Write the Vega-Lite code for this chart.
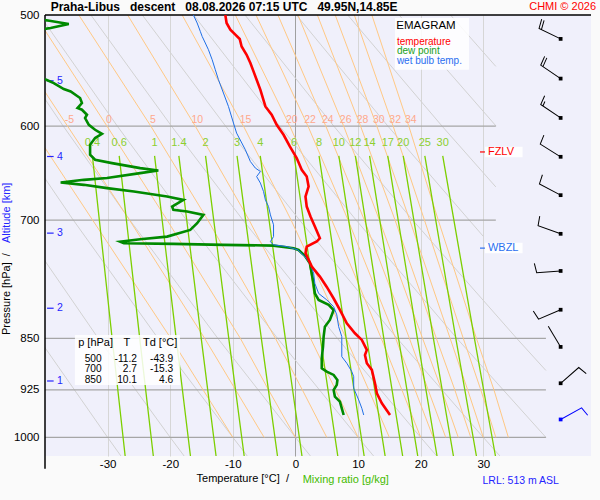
{
  "$schema": "https://vega.github.io/schema/vega-lite/v6.json",
  "width": 546,
  "height": 441,
  "autosize": "none",
  "padding": {"left": 45, "top": 15, "right": 9, "bottom": 44},
  "background": "#fafafa",
  "config": {
    "font": "Liberation Sans",
    "view": {"stroke": null, "fill": "#f0f0fb"}
  },
  "datasets": {
    "levels": [{"p": 600}, {"p": 700}, {"p": 850}, {"p": 925}, {"p": 1000}],
    "alt": [
      {"km": 1, "p": 911.6}, {"km": 2, "p": 809}, {"km": 3, "p": 715.2},
      {"km": 4, "p": 630.7}, {"km": 5, "p": 557}
    ],
    "zl": [{"name": "FZLV", "p": 626}, {"name": "WBZL", "p": 733}],
    "table": [
      {"lev": 500, "T": -11.2, "Td": -43.9},
      {"lev": 700, "T": 2.7, "Td": -15.3},
      {"lev": 850, "T": 10.1, "Td": 4.6}
    ],
    "wind": [
      {"p": 520, "dir": 296, "kt": 20}, {"p": 555, "dir": 304, "kt": 20},
      {"p": 592, "dir": 304, "kt": 15}, {"p": 631, "dir": 302, "kt": 10},
      {"p": 672, "dir": 298, "kt": 10}, {"p": 716, "dir": 290, "kt": 10},
      {"p": 761, "dir": 266, "kt": 10}, {"p": 811, "dir": 247, "kt": 10},
      {"p": 862, "dir": 329, "kt": 3}, {"p": 915, "dir": 49, "kt": 10},
      {"p": 971, "dir": 61, "kt": 10}
    ],
    "dry": [
      {"th": -30, "p": 1031, "T": -27.87}, {"th": -30, "p": 1000, "T": -30}, {"th": -30, "p": 850, "T": -41.04},
      {"th": -20, "p": 1031, "T": -17.78}, {"th": -20, "p": 1000, "T": -20}, {"th": -20, "p": 850, "T": -31.49}, {"th": -20, "p": 700, "T": -44.5},
      {"th": -10, "p": 1031, "T": -7.7}, {"th": -10, "p": 1000, "T": -10}, {"th": -10, "p": 850, "T": -21.95}, {"th": -10, "p": 700, "T": -35.48}, {"th": -10, "p": 600, "T": -45.7},
      {"th": 0, "p": 1031, "T": 2.39}, {"th": 0, "p": 1000, "T": 0}, {"th": 0, "p": 850, "T": -12.4}, {"th": 0, "p": 700, "T": -26.45}, {"th": 0, "p": 600, "T": -37.09}, {"th": 0, "p": 500, "T": -49.07},
      {"th": 10, "p": 1031, "T": 12.48}, {"th": 10, "p": 1000, "T": 10}, {"th": 10, "p": 850, "T": -2.86}, {"th": 10, "p": 700, "T": -17.42}, {"th": 10, "p": 600, "T": -28.45}, {"th": 10, "p": 500, "T": -40.87},
      {"th": 20, "p": 1031, "T": 22.57}, {"th": 20, "p": 1000, "T": 20}, {"th": 20, "p": 850, "T": 6.69}, {"th": 20, "p": 700, "T": -8.39}, {"th": 20, "p": 600, "T": -19.8}, {"th": 20, "p": 500, "T": -32.67},
      {"th": 30, "p": 1031, "T": 32.66}, {"th": 30, "p": 1000, "T": 30}, {"th": 30, "p": 850, "T": 16.24}, {"th": 30, "p": 700, "T": 0.65}, {"th": 30, "p": 600, "T": -11.16}, {"th": 30, "p": 500, "T": -24.46},
      {"th": 40, "p": 1000, "T": 40}, {"th": 40, "p": 850, "T": 25.78}, {"th": 40, "p": 700, "T": 9.68}, {"th": 40, "p": 600, "T": -2.52}, {"th": 40, "p": 500, "T": -16.26},
      {"th": 50, "p": 896, "T": 40}, {"th": 50, "p": 850, "T": 35.33}, {"th": 50, "p": 700, "T": 18.71}, {"th": 50, "p": 600, "T": 6.12}, {"th": 50, "p": 500, "T": -8.06},
      {"th": 60, "p": 719, "T": 30}, {"th": 60, "p": 700, "T": 27.74}, {"th": 60, "p": 600, "T": 14.76}, {"th": 60, "p": 500, "T": 0.15},
      {"th": 70, "p": 663, "T": 32}, {"th": 70, "p": 600, "T": 23.41}, {"th": 70, "p": 500, "T": 8.35},
      {"th": 80, "p": 600, "T": 32.05}, {"th": 80, "p": 500, "T": 16.56},
      {"th": 90, "p": 544, "T": 32}, {"th": 90, "p": 500, "T": 24.76}
    ],
    "moist": [
      {"th": -10, "p": 1000, "T": -10}, {"th": -10, "p": 850, "T": -19.9}, {"th": -10, "p": 700, "T": -32.4}, {"th": -10, "p": 600, "T": -42.3},
      {"th": -5, "p": 1000, "T": -5}, {"th": -5, "p": 850, "T": -14.5}, {"th": -5, "p": 700, "T": -26.5}, {"th": -5, "p": 600, "T": -36.4}, {"th": -5, "p": 500, "T": -48.1},
      {"th": 0, "p": 1000, "T": 0}, {"th": 0, "p": 925, "T": -4.3}, {"th": 0, "p": 850, "T": -8.8}, {"th": 0, "p": 700, "T": -20.5}, {"th": 0, "p": 600, "T": -30.1}, {"th": 0, "p": 500, "T": -41.6},
      {"th": 5, "p": 1000, "T": 5}, {"th": 5, "p": 925, "T": 1.1}, {"th": 5, "p": 850, "T": -3.2}, {"th": 5, "p": 700, "T": -14}, {"th": 5, "p": 600, "T": -23.1}, {"th": 5, "p": 500, "T": -34.6},
      {"th": 10, "p": 1000, "T": 10}, {"th": 10, "p": 925, "T": 6.4}, {"th": 10, "p": 850, "T": 2.4}, {"th": 10, "p": 700, "T": -7.4}, {"th": 10, "p": 600, "T": -16}, {"th": 10, "p": 500, "T": -26.8},
      {"th": 15, "p": 1000, "T": 15}, {"th": 15, "p": 925, "T": 11.7}, {"th": 15, "p": 850, "T": 8.1}, {"th": 15, "p": 700, "T": -0.7}, {"th": 15, "p": 600, "T": -8.3}, {"th": 15, "p": 500, "T": -18.1},
      {"th": 20, "p": 1000, "T": 20}, {"th": 20, "p": 925, "T": 17}, {"th": 20, "p": 850, "T": 13.7}, {"th": 20, "p": 700, "T": 5.8}, {"th": 20, "p": 600, "T": -0.9}, {"th": 20, "p": 500, "T": -9.6},
      {"th": 22, "p": 1000, "T": 22}, {"th": 22, "p": 925, "T": 19.1}, {"th": 22, "p": 850, "T": 16}, {"th": 22, "p": 700, "T": 8.4}, {"th": 22, "p": 600, "T": 2}, {"th": 22, "p": 500, "T": -6.3},
      {"th": 24, "p": 1000, "T": 24}, {"th": 24, "p": 925, "T": 21.2}, {"th": 24, "p": 850, "T": 18.2}, {"th": 24, "p": 700, "T": 11}, {"th": 24, "p": 600, "T": 4.85}, {"th": 24, "p": 500, "T": -2.8},
      {"th": 26, "p": 1000, "T": 26}, {"th": 26, "p": 925, "T": 23.35}, {"th": 26, "p": 850, "T": 20.3}, {"th": 26, "p": 700, "T": 13.4}, {"th": 26, "p": 600, "T": 7.7}, {"th": 26, "p": 500, "T": 0.4},
      {"th": 28, "p": 1000, "T": 28}, {"th": 28, "p": 925, "T": 25.45}, {"th": 28, "p": 850, "T": 22.5}, {"th": 28, "p": 700, "T": 15.9}, {"th": 28, "p": 600, "T": 10.4}, {"th": 28, "p": 500, "T": 3.5},
      {"th": 30, "p": 1000, "T": 30}, {"th": 30, "p": 925, "T": 27.5}, {"th": 30, "p": 850, "T": 24.7}, {"th": 30, "p": 700, "T": 18.25}, {"th": 30, "p": 600, "T": 13}, {"th": 30, "p": 500, "T": 6.35},
      {"th": 32, "p": 1000, "T": 32}, {"th": 32, "p": 925, "T": 29.6}, {"th": 32, "p": 850, "T": 26.8}, {"th": 32, "p": 700, "T": 20.6}, {"th": 32, "p": 600, "T": 15.6}, {"th": 32, "p": 500, "T": 9.4},
      {"th": 34, "p": 1000, "T": 34}, {"th": 34, "p": 925, "T": 31.7}, {"th": 34, "p": 850, "T": 28.9}, {"th": 34, "p": 700, "T": 22.8}, {"th": 34, "p": 600, "T": 18.1}, {"th": 34, "p": 500, "T": 12.2}
    ],
    "mix": [
      {"r": 0.4, "p": 630, "T": -32.43}, {"r": 0.4, "p": 850, "T": -29.28}, {"r": 0.4, "p": 1031, "T": -27.2},
      {"r": 0.6, "p": 630, "T": -28.15}, {"r": 0.6, "p": 850, "T": -24.87}, {"r": 0.6, "p": 1031, "T": -22.7},
      {"r": 1, "p": 630, "T": -22.5}, {"r": 1, "p": 850, "T": -19.05}, {"r": 1, "p": 1031, "T": -16.77},
      {"r": 1.4, "p": 630, "T": -18.62}, {"r": 1.4, "p": 850, "T": -15.05}, {"r": 1.4, "p": 1031, "T": -12.68},
      {"r": 2, "p": 630, "T": -14.36}, {"r": 2, "p": 850, "T": -10.65}, {"r": 2, "p": 1031, "T": -8.19},
      {"r": 3, "p": 630, "T": -9.33}, {"r": 3, "p": 850, "T": -5.45}, {"r": 3, "p": 1031, "T": -2.87},
      {"r": 4, "p": 630, "T": -5.62}, {"r": 4, "p": 850, "T": -1.62}, {"r": 4, "p": 1031, "T": 1.04},
      {"r": 6, "p": 630, "T": -0.21}, {"r": 6, "p": 850, "T": 3.98}, {"r": 6, "p": 1031, "T": 6.76},
      {"r": 8, "p": 630, "T": 3.77}, {"r": 8, "p": 850, "T": 8.1}, {"r": 8, "p": 1031, "T": 10.97},
      {"r": 10, "p": 630, "T": 6.93}, {"r": 10, "p": 850, "T": 11.38}, {"r": 10, "p": 1031, "T": 14.32},
      {"r": 12, "p": 630, "T": 9.57}, {"r": 12, "p": 850, "T": 14.11}, {"r": 12, "p": 1031, "T": 17.12},
      {"r": 14, "p": 630, "T": 11.84}, {"r": 14, "p": 850, "T": 16.46}, {"r": 14, "p": 1031, "T": 19.53},
      {"r": 17, "p": 630, "T": 14.74}, {"r": 17, "p": 850, "T": 19.47}, {"r": 17, "p": 1031, "T": 22.61},
      {"r": 20, "p": 630, "T": 17.21}, {"r": 20, "p": 850, "T": 22.03}, {"r": 20, "p": 1031, "T": 25.23},
      {"r": 25, "p": 630, "T": 20.66}, {"r": 25, "p": 850, "T": 25.61}, {"r": 25, "p": 1031, "T": 28.9},
      {"r": 30, "p": 630, "T": 23.52}, {"r": 30, "p": 850, "T": 28.58}, {"r": 30, "p": 1031, "T": 31.94}
    ],
    "temp": [
      {"p": 500, "T": -11.2}, {"p": 506.6, "T": -11.0}, {"p": 512.2, "T": -10.4}, {"p": 516.4, "T": -9.6},
      {"p": 520.1, "T": -8.9}, {"p": 526.5, "T": -8.6}, {"p": 533.7, "T": -7.8}, {"p": 541, "T": -7.2},
      {"p": 548.5, "T": -6.7}, {"p": 556, "T": -6.2}, {"p": 565.3, "T": -5.6}, {"p": 581, "T": -4.8},
      {"p": 588.9, "T": -3.8}, {"p": 598.7, "T": -3.0}, {"p": 608.6, "T": -1.9}, {"p": 620.4, "T": -0.9},
      {"p": 632.3, "T": 0.2}, {"p": 644.6, "T": 1.0}, {"p": 651.8, "T": 1.8}, {"p": 662.5, "T": 2.1},
      {"p": 673.5, "T": 1.6}, {"p": 684.7, "T": 1.8}, {"p": 695.9, "T": 2.4}, {"p": 707.5, "T": 3.1},
      {"p": 721.1, "T": 3.9}, {"p": 725.1, "T": 3.4}, {"p": 731.1, "T": 1.8}, {"p": 739.1, "T": 1.6},
      {"p": 747.3, "T": 2.1}, {"p": 755.5, "T": 2.6}, {"p": 768.1, "T": 3.9}, {"p": 781.2, "T": 5.0},
      {"p": 796.2, "T": 6.1}, {"p": 811.3, "T": 7.1}, {"p": 829.2, "T": 8.2}, {"p": 842.9, "T": 9.5},
      {"p": 852.2, "T": 10.6}, {"p": 866.3, "T": 11.4}, {"p": 873.5, "T": 11.1}, {"p": 885.4, "T": 11.4},
      {"p": 895.2, "T": 12.2}, {"p": 915, "T": 12.7}, {"p": 930.1, "T": 13.0}, {"p": 945.5, "T": 13.8},
      {"p": 963.9, "T": 15.1}
    ],
    "dew": [
      {"p": 500, "T": -43.9}, {"p": 503, "T": -42}, {"p": 504.7, "T": -39.3}, {"p": 507.4, "T": -36.2},
      {"p": 510.8, "T": -39.1}, {"p": 514, "T": -43}, {"p": 535, "T": -46}, {"p": 552, "T": -42},
      {"p": 556, "T": -39.8}, {"p": 559.1, "T": -38.6}, {"p": 564.6, "T": -37.0}, {"p": 566.8, "T": -35.9},
      {"p": 573, "T": -34.4}, {"p": 577.7, "T": -34.1}, {"p": 582.5, "T": -34.8}, {"p": 584.1, "T": -34.1},
      {"p": 588.9, "T": -33.3}, {"p": 592.1, "T": -33.6}, {"p": 598.7, "T": -33.0}, {"p": 603.6, "T": -32.0},
      {"p": 607.6, "T": -30.9}, {"p": 611.9, "T": -32.0}, {"p": 618.7, "T": -32.8}, {"p": 628.9, "T": -32.8},
      {"p": 634.1, "T": -32.0}, {"p": 637.6, "T": -29.3}, {"p": 642.8, "T": -24.8}, {"p": 645.3, "T": -21.9},
      {"p": 648.1, "T": -24.8}, {"p": 653.4, "T": -30.1}, {"p": 655.3, "T": -33.8}, {"p": 658.2, "T": -37.5},
      {"p": 660.7, "T": -33.8}, {"p": 664.3, "T": -30.1}, {"p": 668, "T": -25.8}, {"p": 673.5, "T": -20.5},
      {"p": 677.2, "T": -17.9}, {"p": 684.7, "T": -19.7}, {"p": 688.4, "T": -19.5}, {"p": 690.3, "T": -17.3},
      {"p": 694.1, "T": -14.7}, {"p": 703.6, "T": -15.7}, {"p": 711.4, "T": -16.8}, {"p": 719.3, "T": -20.5},
      {"p": 722.4, "T": -24.8}, {"p": 725.2, "T": -28.0}, {"p": 727.1, "T": -27.4}, {"p": 727.9, "T": -19.5},
      {"p": 729.1, "T": -11.5}, {"p": 730, "T": -3.5}, {"p": 733.1, "T": -0.3}, {"p": 735.2, "T": 0.5},
      {"p": 742.4, "T": 1.5}, {"p": 751.3, "T": 2.3}, {"p": 763.8, "T": 2.6}, {"p": 776.8, "T": 2.9},
      {"p": 789.6, "T": 3.1}, {"p": 798, "T": 3.7}, {"p": 804.6, "T": 5.3}, {"p": 811.3, "T": 6.1},
      {"p": 824.7, "T": 5.5}, {"p": 833.9, "T": 4.7}, {"p": 847.6, "T": 4.5}, {"p": 861.6, "T": 4.4},
      {"p": 878.3, "T": 4.2}, {"p": 892.7, "T": 4.2}, {"p": 897.7, "T": 5.0}, {"p": 902.6, "T": 6.1},
      {"p": 910.1, "T": 6.7}, {"p": 917.5, "T": 6.6}, {"p": 925.1, "T": 6.1}, {"p": 935.3, "T": 6.3},
      {"p": 943, "T": 7.1}, {"p": 953.4, "T": 7.4}, {"p": 963.9, "T": 7.7}
    ],
    "wet": [
      {"p": 500, "T": -16.3}, {"p": 506.6, "T": -15.7}, {"p": 513.6, "T": -15.2}, {"p": 517.9, "T": -14.9},
      {"p": 523.5, "T": -14.4}, {"p": 529.3, "T": -13.9}, {"p": 538.1, "T": -13.3}, {"p": 547, "T": -12.8},
      {"p": 556, "T": -12.3}, {"p": 568.3, "T": -11.5}, {"p": 581, "T": -10.7}, {"p": 597, "T": -9.9},
      {"p": 606.9, "T": -9.4}, {"p": 623.8, "T": -8.0}, {"p": 635.9, "T": -7.2}, {"p": 642.8, "T": -6.4},
      {"p": 646.4, "T": -5.6}, {"p": 651.8, "T": -6.2}, {"p": 658.8, "T": -5.6}, {"p": 668, "T": -5.1},
      {"p": 677.2, "T": -4.8}, {"p": 684.7, "T": -4.3}, {"p": 694.1, "T": -4.0}, {"p": 705.5, "T": -3.5},
      {"p": 719.3, "T": -3.5}, {"p": 725.2, "T": -4.0}, {"p": 729.1, "T": -3.5}, {"p": 731.1, "T": -1.4},
      {"p": 735.2, "T": 0.4}, {"p": 743.3, "T": 1.5}, {"p": 751.3, "T": 2.3}, {"p": 763.8, "T": 2.9},
      {"p": 776.8, "T": 3.1}, {"p": 789.6, "T": 3.7}, {"p": 798, "T": 5.0}, {"p": 806.9, "T": 6.1},
      {"p": 817.9, "T": 6.6}, {"p": 833.9, "T": 6.9}, {"p": 847.6, "T": 7.4}, {"p": 875.9, "T": 7.4},
      {"p": 885.4, "T": 8.2}, {"p": 897.7, "T": 9.0}, {"p": 905.1, "T": 9.3}, {"p": 922.5, "T": 9.3},
      {"p": 940.4, "T": 10.1}, {"p": 953.4, "T": 10.6}, {"p": 963.9, "T": 10.9}
    ]
  },
  "layer": [
    {
      "layer": [
        {
          "data": {"name": "dry"},
          "mark": {"type": "line", "color": "#d2d2d2", "strokeWidth": 1, "clip": true},
          "encoding": {
            "x": {
              "field": "T",
              "type": "quantitative",
              "scale": {"domain": [-40, 47.2], "nice": false, "zero": false},
              "axis": {
                "title": null,
                "values": [-30, -20, -10, 0, 10, 20, 30],
                "domain": false,
                "ticks": false,
                "labelFontSize": 11.5,
                "labelColor": "#000000",
                "labelPadding": 2,
                "labelExpr": "'' + datum.value",
                "grid": true,
                "gridColor": {"condition": {"test": "datum.value === 0", "value": "#a0a0a0"}, "value": "#d6d6d6"},
                "gridWidth": 1
              }
            },
            "y": {
              "field": "p",
              "type": "quantitative",
              "scale": {"type": "log", "domain": [500, 1031], "reverse": true, "nice": false},
              "axis": {
                "title": null,
                "values": [500, 600, 700, 850, 925, 1000],
                "domain": false,
                "ticks": false,
                "grid": false,
                "labelFontSize": 11.5,
                "labelColor": "#000000",
                "labelPadding": 6,
                "labelExpr": "'' + datum.value"
              }
            },
            "detail": {"field": "th", "type": "nominal"},
            "order": {"field": "p", "type": "quantitative"}
          }
        },
        {
          "data": {"name": "levels"},
          "transform": [{"filter": "datum.p < 800"}],
          "mark": {"type": "rule", "color": "#a6a6a6", "strokeWidth": 1.3},
          "encoding": {
            "x": {"datum": -40},
            "x2": {"datum": 32},
            "y": {"field": "p", "type": "quantitative"}
          }
        },
        {
          "data": {"name": "levels"},
          "transform": [{"filter": "datum.p > 800"}],
          "mark": {"type": "rule", "color": "#a6a6a6", "strokeWidth": 1.3},
          "encoding": {
            "x": {"datum": -40},
            "x2": {"datum": 40},
            "y": {"field": "p", "type": "quantitative"}
          }
        },
        {
          "data": {"name": "moist"},
          "mark": {"type": "line", "color": "#ffc884", "strokeWidth": 1, "clip": true},
          "encoding": {
            "x": {"field": "T", "type": "quantitative"},
            "y": {"field": "p", "type": "quantitative"},
            "detail": {"field": "th", "type": "nominal"},
            "order": {"field": "p", "type": "quantitative"}
          }
        },
        {
          "data": {"name": "mix"},
          "mark": {"type": "line", "color": "#7ccf00", "strokeWidth": 1.3, "clip": true},
          "encoding": {
            "x": {"field": "T", "type": "quantitative"},
            "y": {"field": "p", "type": "quantitative"},
            "detail": {"field": "r", "type": "nominal"},
            "order": {"field": "p", "type": "quantitative"}
          }
        },
        {
          "data": {"name": "moist"},
          "transform": [{"filter": "datum.p == 600 && datum.th >= -5"}],
          "mark": {"type": "text", "color": "#ffa88c", "fontSize": 10.5, "dx": 2, "dy": -6},
          "encoding": {
            "x": {"field": "T", "type": "quantitative"},
            "y": {"field": "p", "type": "quantitative"},
            "text": {"field": "th", "type": "nominal"}
          }
        },
        {
          "data": {"name": "mix"},
          "transform": [{"filter": "datum.p == 630"}],
          "mark": {"type": "text", "color": "#8ccf30", "fontSize": 11, "dy": -13},
          "encoding": {
            "x": {"field": "T", "type": "quantitative"},
            "y": {"field": "p", "type": "quantitative"},
            "text": {"field": "r", "type": "nominal"}
          }
        },
        {
          "data": {"name": "alt"},
          "mark": {"type": "rule", "color": "#2424ff", "strokeWidth": 1.2},
          "encoding": {
            "x": {"datum": -39.67},
            "x2": {"datum": -38.62},
            "y": {"field": "p", "type": "quantitative"}
          }
        },
        {
          "data": {"name": "alt"},
          "mark": {"type": "text", "color": "#2424ff", "fontSize": 10.5, "align": "left"},
          "encoding": {
            "x": {"datum": -38.1},
            "y": {"field": "p", "type": "quantitative"},
            "text": {"field": "km", "type": "nominal"}
          }
        },
        {
          "data": {"values": [{}]},
          "mark": {"type": "rule", "color": "#000000", "strokeWidth": 1.5},
          "encoding": {"x": {"datum": -40}, "x2": {"datum": 47.2}, "y": {"datum": 500}}
        },
        {
          "data": {"values": [{}]},
          "mark": {"type": "rule", "color": "#000000", "strokeWidth": 1.5},
          "encoding": {"x": {"datum": -40}, "y": {"datum": 500}, "y2": {"datum": 1053}}
        },
        {
          "data": {"values": [{}]},
          "mark": {"type": "rect", "color": "#ffffff", "opacity": 0.85},
          "encoding": {"x": {"datum": 15.89}, "x2": {"datum": 27.71}, "y": {"datum": 502.5}, "y2": {"datum": 547}}
        },
        {
          "data": {"values": [{}]},
          "mark": {"type": "text", "text": "EMAGRAM", "align": "left", "fontSize": 11.5, "color": "#000000"},
          "encoding": {"x": {"datum": 16.1}, "y": {"datum": 508.9}}
        },
        {
          "data": {"values": [{}]},
          "mark": {"type": "text", "text": "temperature", "align": "left", "fontSize": 10, "color": "#ff0000"},
          "encoding": {"x": {"datum": 16.2}, "y": {"datum": 522.4}}
        },
        {
          "data": {"values": [{}]},
          "mark": {"type": "text", "text": "dew point", "align": "left", "fontSize": 10, "color": "#20a020"},
          "encoding": {"x": {"datum": 16.2}, "y": {"datum": 530.8}}
        },
        {
          "data": {"values": [{}]},
          "mark": {"type": "text", "text": "wet bulb temp.", "align": "left", "fontSize": 10, "color": "#2a6ef0"},
          "encoding": {"x": {"datum": 16.2}, "y": {"datum": 539.6}}
        },
        {
          "data": {"values": [{}]},
          "mark": {"type": "rect", "color": "#ffffff", "opacity": 0.85},
          "encoding": {"x": {"datum": -35.22}, "x2": {"datum": -18.45}, "y": {"datum": 845.4}, "y2": {"datum": 917.6}}
        },
        {
          "data": {"values": [{}]},
          "mark": {"type": "text", "text": "p [hPa]", "align": "left", "fontSize": 11},
          "encoding": {"x": {"datum": -34.7}, "y": {"datum": 857}}
        },
        {
          "data": {"values": [{}]},
          "mark": {"type": "text", "text": "T", "fontSize": 11},
          "encoding": {"x": {"datum": -26.91}, "y": {"datum": 857}}
        },
        {
          "data": {"values": [{}]},
          "mark": {"type": "text", "text": "Td [°C]", "align": "left", "fontSize": 11},
          "encoding": {"x": {"datum": -24.36}, "y": {"datum": 857}}
        },
        {
          "data": {"name": "dew"},
          "mark": {"type": "line", "color": "#008a00", "strokeWidth": 2.6, "clip": true},
          "encoding": {
            "x": {"field": "T", "type": "quantitative"},
            "y": {"field": "p", "type": "quantitative"},
            "order": {"field": "p", "type": "quantitative"}
          }
        },
        {
          "data": {"name": "wet"},
          "mark": {"type": "line", "color": "#1f6fe6", "strokeWidth": 1, "clip": true},
          "encoding": {
            "x": {"field": "T", "type": "quantitative"},
            "y": {"field": "p", "type": "quantitative"},
            "order": {"field": "p", "type": "quantitative"}
          }
        },
        {
          "data": {"name": "temp"},
          "mark": {"type": "line", "color": "#ff0000", "strokeWidth": 2.6, "clip": true},
          "encoding": {
            "x": {"field": "T", "type": "quantitative"},
            "y": {"field": "p", "type": "quantitative"},
            "order": {"field": "p", "type": "quantitative"}
          }
        },
        {
          "data": {"name": "zl"},
          "mark": {"type": "rule", "color": "#ffffff", "strokeWidth": 10.5, "opacity": 0.9},
          "encoding": {
            "x": {"datum": 30.26},
            "x2": {"datum": 36.28},
            "y": {"field": "p", "type": "quantitative"}
          }
        },
        {
          "data": {"name": "zl"},
          "mark": {"type": "rule", "strokeWidth": 1.2},
          "encoding": {
            "x": {"datum": 29.47},
            "x2": {"datum": 30.26},
            "y": {"field": "p", "type": "quantitative"},
            "color": {"condition": {"test": "datum.name == 'FZLV'", "value": "#ff0000"}, "value": "#2a6ef0"}
          }
        },
        {
          "data": {"name": "zl"},
          "mark": {"type": "text", "align": "left", "fontSize": 11},
          "encoding": {
            "x": {"datum": 30.74},
            "y": {"field": "p", "type": "quantitative"},
            "text": {"field": "name", "type": "nominal"},
            "color": {"condition": {"test": "datum.name == 'FZLV'", "value": "#ff0000"}, "value": "#2a6ef0"}
          }
        },
        {
          "data": {"name": "wind"},
          "mark": {"type": "point", "filled": false, "size": 576, "strokeWidth": 1, "opacity": 1},
          "encoding": {
            "x": {"datum": 42.35},
            "y": {"field": "p", "type": "quantitative"},
            "shape": {
              "field": "kt",
              "type": "nominal",
              "scale": {
                "domain": [20, 15, 10, 3],
                "range": [
                  "M0,0L0,-2L0.79,-2.14M0,-1.78L0.79,-1.92",
                  "M0,0L0,-2L0.79,-2.14M0,-1.78L0.4,-1.85",
                  "M0,0L0,-2L0.79,-2.14",
                  "M0,0L0,-2"
                ]
              },
              "legend": null
            },
            "angle": {"field": "dir", "type": "quantitative", "scale": null},
            "color": {"condition": {"test": "datum.p > 950", "value": "#0000ff"}, "value": "#000000"}
          }
        },
        {
          "data": {"name": "wind"},
          "mark": {"type": "square", "size": 14, "filled": true, "opacity": 1},
          "encoding": {
            "x": {"datum": 42.35},
            "y": {"field": "p", "type": "quantitative"},
            "color": {"condition": {"test": "datum.p > 950", "value": "#0000ff"}, "value": "#000000"}
          }
        },
        {
          "data": {"values": [{}]},
          "mark": {"type": "text", "text": "Praha-Libus\u00a0\u00a0\u00a0descent\u00a0\u00a0\u00a008.08.2026 07:15 UTC\u00a0\u00a0\u00a049.95N,14.85E", "align": "left", "fontSize": 12, "fontWeight": "bold", "dy": -8},
          "encoding": {"x": {"datum": -39.1}, "y": {"datum": 500}}
        },
        {
          "data": {"values": [{}]},
          "mark": {"type": "text", "text": "CHMI © 2026", "align": "right", "fontSize": 11, "color": "#ff0000", "dx": 5, "dy": -8},
          "encoding": {"x": {"datum": 47.2}, "y": {"datum": 500}}
        },
        {
          "data": {"values": [{}]},
          "mark": {"type": "text", "text": "Pressure [hPa]\u00a0\u00a0/", "align": "right", "angle": 270, "fontSize": 11},
          "encoding": {"x": {"datum": -46}, "y": {"datum": 739}}
        },
        {
          "data": {"values": [{}]},
          "mark": {"type": "text", "text": "Altitude [km]", "align": "left", "angle": 270, "fontSize": 11, "color": "#2424ff"},
          "encoding": {"x": {"datum": -46}, "y": {"datum": 727}}
        },
        {
          "data": {"values": [{}]},
          "mark": {"type": "text", "text": "Temperature [°C]\u00a0\u00a0/", "align": "right", "fontSize": 11, "dy": 23},
          "encoding": {"x": {"datum": -1.04}, "y": {"datum": 1031}}
        },
        {
          "data": {"values": [{}]},
          "mark": {"type": "text", "text": "Mixing ratio [g/kg]", "align": "left", "fontSize": 11, "color": "#44bb00", "dy": 24},
          "encoding": {"x": {"datum": 1.15}, "y": {"datum": 1031}}
        },
        {
          "data": {"values": [{}]},
          "mark": {"type": "text", "text": "LRL: 513 m ASL", "align": "left", "fontSize": 10.5, "color": "#2424ff", "dy": 25},
          "encoding": {"x": {"datum": 29.87}, "y": {"datum": 1031}}
        }
      ]
    },
    {
      "data": {"name": "table"},
      "encoding": {
        "y": {
          "field": "lev",
          "type": "ordinal",
          "scale": {"type": "point", "range": [343.5, 364.5], "padding": 0},
          "axis": null
        }
      },
      "layer": [
        {
          "mark": {"type": "text", "align": "right", "fontSize": 10.2},
          "encoding": {"x": {"datum": -30.95}, "text": {"field": "lev", "type": "nominal"}}
        },
        {
          "mark": {"type": "text", "align": "right", "fontSize": 10.2},
          "encoding": {"x": {"datum": -25.31}, "text": {"field": "T", "type": "nominal"}}
        },
        {
          "mark": {"type": "text", "align": "right", "fontSize": 10.2},
          "encoding": {"x": {"datum": -19.52}, "text": {"field": "Td", "type": "nominal"}}
        }
      ]
    }
  ],
  "resolve": {"scale": {"y": "independent"}}
}
